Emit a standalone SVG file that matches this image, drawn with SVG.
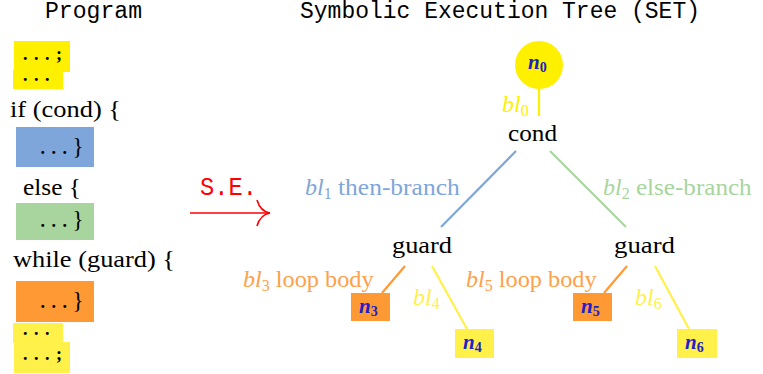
<svg xmlns="http://www.w3.org/2000/svg" width="763" height="374" viewBox="0 0 763 374">
<style>
.mono{font-family:"Liberation Mono","DejaVu Sans Mono",monospace;font-size:23px;fill:#000}
.serif{font-family:"Liberation Serif","DejaVu Serif",serif;font-size:23px;fill:#000}
.dots{font-family:"Liberation Serif",serif;font-size:18px;font-weight:bold;fill:#000;letter-spacing:6.5px}
.brace{font-family:"Liberation Serif",serif;font-size:23px;fill:#000}
.mi{font-family:"Liberation Serif",serif;font-style:italic;font-size:24px}
.sub{font-style:normal;font-size:16px}
.nl{font-family:"Liberation Serif",serif;font-style:italic;font-weight:bold;font-size:21px;fill:#2020c8}
.nsub{font-style:normal;font-size:14px}
.edge{fill:none;stroke-width:2.2}
</style>

<g id="program">
  <text class="mono" x="45" y="18" textLength="97" lengthAdjust="spacingAndGlyphs">Program</text>
  <g id="stmt-pre">
    <rect x="14" y="41" width="56" height="31" fill="#FFF000"/>
    <rect x="13" y="70" width="50" height="19" fill="#FFF000"/>
    <text class="dots" x="23" y="60">...;</text>
    <text class="dots" x="23" y="81">...</text>
  </g>
  <text class="serif" x="10" y="117" textLength="111" lengthAdjust="spacingAndGlyphs">if (cond) {</text>
  <g id="stmt-then">
    <rect x="16" y="127" width="78" height="40" fill="#7FA6DA"/>
    <text class="dots" x="40.5" y="154">...<tspan class="brace" font-weight="normal" dx="-1">}</tspan></text>
  </g>
  <text class="serif" x="23" y="195" textLength="58" lengthAdjust="spacingAndGlyphs">else {</text>
  <g id="stmt-else">
    <rect x="16" y="203" width="78" height="37" fill="#A8D59D"/>
    <text class="dots" x="40.5" y="227">...<tspan class="brace" font-weight="normal" dx="-1">}</tspan></text>
  </g>
  <text class="serif" x="13" y="267" textLength="162" lengthAdjust="spacingAndGlyphs">while (guard) {</text>
  <g id="stmt-loop">
    <rect x="16" y="281" width="78" height="41" fill="#FF9933"/>
    <text class="dots" x="40.5" y="308">...<tspan class="brace" font-weight="normal" dx="-1">}</tspan></text>
  </g>
  <g id="stmt-post">
    <rect x="13" y="323" width="50" height="20" fill="#FFF04A"/>
    <rect x="14" y="342" width="56" height="31" fill="#FFF04A"/>
    <text class="dots" x="23" y="335">...</text>
    <text class="dots" x="23" y="360">...;</text>
  </g>
</g>

<g id="se-arrow">
  <text class="mono" x="200" y="195" style="fill:#FF0000;font-size:26px" textLength="57" lengthAdjust="spacingAndGlyphs">S.E.</text>
  <line x1="190" y1="213" x2="269" y2="213" stroke="#FF0000" stroke-width="1.6"/>
  <path d="M257,200 C259,207 264,212 270,213 C264,214 259,219 257,226" fill="none" stroke="#FF0000" stroke-width="1.6"/>
</g>

<text class="mono" x="300" y="18" textLength="400" lengthAdjust="spacingAndGlyphs">Symbolic Execution Tree (SET)</text>

<g id="connectors">
  <line class="edge" x1="539" y1="89" x2="539" y2="116" stroke="#FFF000" stroke-width="3"/>
  <line class="edge" x1="516" y1="151" x2="441" y2="227" stroke="#7FA6DA"/>
  <line class="edge" x1="550" y1="151" x2="626" y2="227" stroke="#A8D59D"/>
  <line class="edge" x1="405" y1="266" x2="382" y2="293" stroke="#FF9933" stroke-width="2.6"/>
  <line class="edge" x1="432" y1="266" x2="467" y2="329" stroke="#FFF04A" stroke-width="2.6"/>
  <line class="edge" x1="627" y1="266" x2="604" y2="293" stroke="#FF9933" stroke-width="2.6"/>
  <line class="edge" x1="655" y1="266" x2="689" y2="329" stroke="#FFF04A" stroke-width="2.6"/>
  <text class="mi" x="502" y="112" fill="#FFF000">bl<tspan class="sub" dy="4">0</tspan></text>
  <text class="mi" x="305" y="195" fill="#7FA6DA">bl<tspan class="sub" dy="4">1</tspan><tspan style="font-style:normal" dy="-4" textLength="128" lengthAdjust="spacingAndGlyphs"> then-branch</tspan></text>
  <text class="mi" x="603" y="195" fill="#A8D59D">bl<tspan class="sub" dy="4">2</tspan><tspan style="font-style:normal" dy="-4" textLength="122" lengthAdjust="spacingAndGlyphs"> else-branch</tspan></text>
  <text class="mi" x="243" y="287" fill="#FFA04A">bl<tspan class="sub" dy="4">3</tspan><tspan style="font-style:normal" dy="-4" textLength="104" lengthAdjust="spacingAndGlyphs"> loop body</tspan></text>
  <text class="mi" x="413" y="305" fill="#FFF04A">bl<tspan class="sub" dy="4">4</tspan></text>
  <text class="mi" x="466" y="287" fill="#FFA04A">bl<tspan class="sub" dy="4">5</tspan><tspan style="font-style:normal" dy="-4" textLength="104" lengthAdjust="spacingAndGlyphs"> loop body</tspan></text>
  <text class="mi" x="635" y="305" fill="#FFF04A">bl<tspan class="sub" dy="4">6</tspan></text>
</g>

<g id="n0">
  <circle cx="539" cy="65" r="24" fill="#FFF000"/>
  <text class="nl" x="528" y="69">n<tspan class="nsub" dy="3">0</tspan></text>
</g>
<g id="cond">
  <text class="serif" x="508" y="141" textLength="49" lengthAdjust="spacingAndGlyphs">cond</text>
</g>
<g id="guard-left">
  <text class="serif" x="392" y="253" textLength="60" lengthAdjust="spacingAndGlyphs">guard</text>
</g>
<g id="guard-right">
  <text class="serif" x="614" y="253" textLength="61" lengthAdjust="spacingAndGlyphs">guard</text>
</g>
<g id="n3">
  <rect x="351" y="293" width="39" height="28" fill="#FF9933"/>
  <text class="nl" x="359" y="313">n<tspan class="nsub" dy="3">3</tspan></text>
</g>
<g id="n4">
  <rect x="455" y="329" width="39" height="29" fill="#FFF04A"/>
  <text class="nl" x="463" y="349">n<tspan class="nsub" dy="3">4</tspan></text>
</g>
<g id="n5">
  <rect x="573" y="293" width="39" height="28" fill="#FF9933"/>
  <text class="nl" x="581" y="313">n<tspan class="nsub" dy="3">5</tspan></text>
</g>
<g id="n6">
  <rect x="677" y="329" width="40" height="29" fill="#FFF04A"/>
  <text class="nl" x="685" y="349">n<tspan class="nsub" dy="3">6</tspan></text>
</g>
</svg>
